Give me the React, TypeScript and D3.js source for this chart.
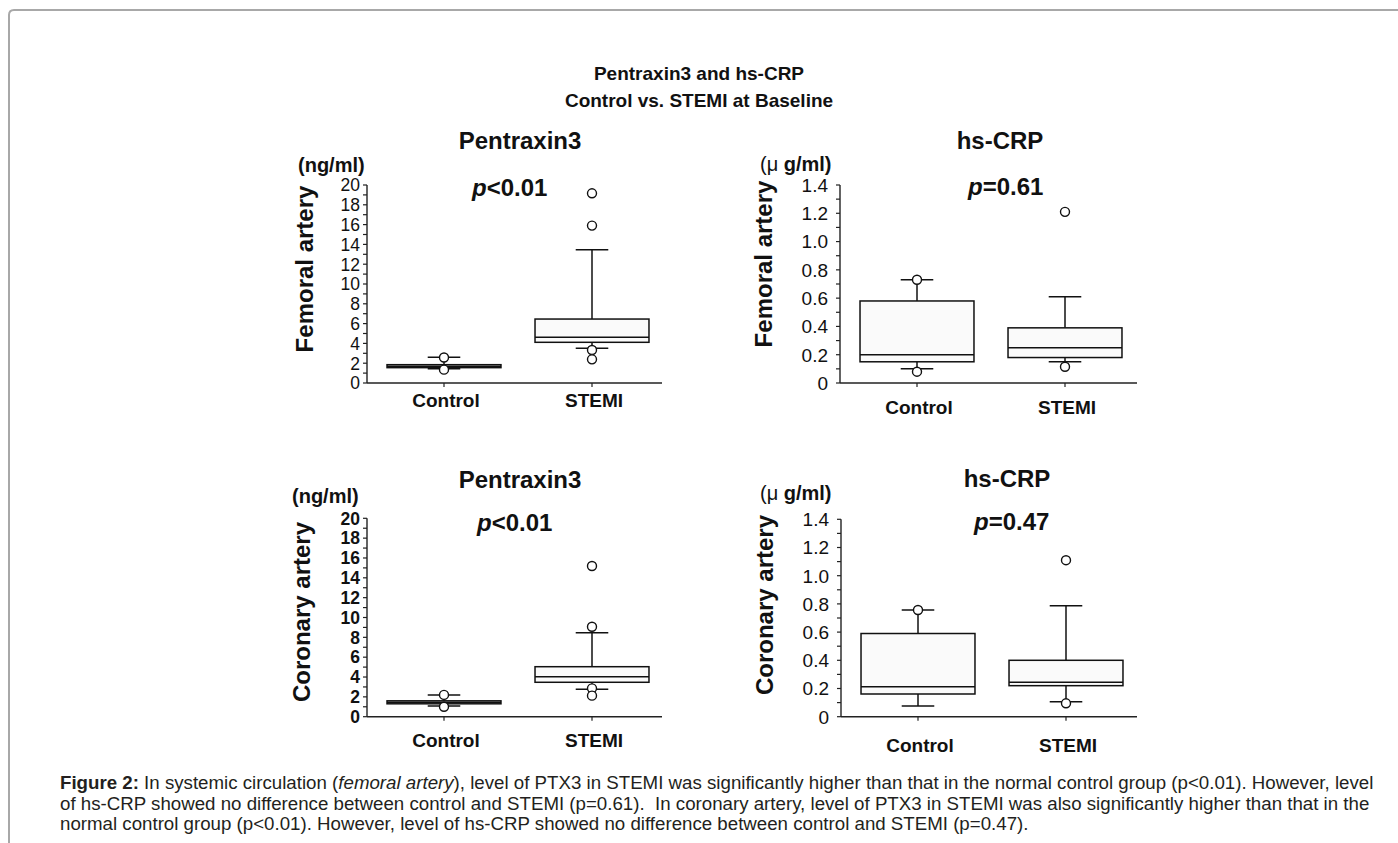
import React from "react";
import * as d3 from "d3";

const FONT = "'Liberation Sans', Arial, Helvetica, sans-serif";

const categories = ["Control", "STEMI"];
const ptxTickLabels = [0, 2, 4, 6, 8, 10, 12, 14, 16, 18, 20];
const crpTickLabels = [0, 0.2, 0.4, 0.6, 0.8, 1.0, 1.2, 1.4];

type Stat = { q1: number; median: number; q3: number; lo: number; hi: number; outliers: number[] };

// Femoral artery, Pentraxin3 (ng/ml)
const femoralPtx3: Stat[] = [
  { q1: 1.55, median: 1.7, q3: 1.85, lo: 1.44, hi: 2.6, outliers: [2.58, 1.35] },
  { q1: 4.11, median: 4.62, q3: 6.46, lo: 3.5, hi: 13.46, outliers: [19.16, 15.9, 3.33, 2.39] },
];
// Femoral artery, hs-CRP (µg/ml)
const femoralCrp: Stat[] = [
  { q1: 0.15, median: 0.2, q3: 0.58, lo: 0.1, hi: 0.73, outliers: [0.73, 0.08] },
  { q1: 0.18, median: 0.25, q3: 0.39, lo: 0.15, hi: 0.61, outliers: [1.21, 0.115] },
];
// Coronary artery, Pentraxin3 (ng/ml)
const coronaryPtx3: Stat[] = [
  { q1: 1.3, median: 1.45, q3: 1.6, lo: 1.08, hi: 2.19, outliers: [2.2, 1.0] },
  { q1: 3.47, median: 4.03, q3: 5.04, lo: 2.76, hi: 8.47, outliers: [15.19, 9.07, 2.86, 2.12] },
];
// Coronary artery, hs-CRP (µg/ml)
const coronaryCrp: Stat[] = [
  { q1: 0.161, median: 0.213, q3: 0.59, lo: 0.076, hi: 0.757, outliers: [0.757] },
  { q1: 0.22, median: 0.244, q3: 0.4, lo: 0.106, hi: 0.787, outliers: [1.11, 0.095] },
];

const captionLines = [
  [
    { t: "Figure 2:", w: "bold" },
    { t: " In systemic circulation (" },
    { t: "femoral artery", s: "italic" },
    { t: "), level of PTX3 in STEMI was significantly higher than that in the normal control group (p<0.01). However, level" },
  ],
  [{ t: "of hs-CRP showed no difference between control and STEMI (p=0.61).\u00a0 In coronary artery, level of PTX3 in STEMI was also significantly higher than that in the" }],
  [{ t: "normal control group (p<0.01). However, level of hs-CRP showed no difference between control and STEMI (p=0.47)." }],
];

type PanelCfg = {
  stats: Stat[];
  axisX: number;
  xEnd: number;
  yBase: number;
  yTop: number;
  max: number;
  minorStep: number;
  labels: number[];
  fmt: (d: number) => string;
  labelSize: number;
  labelWeight: string;
  labelGap: number;
  catDy: number;
  title: string;
  titleX: number;
  titleY: number;
  unit: React.ReactNode;
  unitX: number;
  unitY: number;
  pItalic: string;
  pRest: string;
  pX: number;
  pY: number;
  yTitle: string;
  yTitleX: number;
  yTitleY: number;
};

function Panel({ c }: { c: PanelCfg }) {
  const y = d3.scaleLinear().domain([0, c.max]).range([c.yBase, c.yTop]);
  const x = d3.scaleBand<string>().domain(categories).range([c.axisX + 3, c.axisX + 3 + 296]).padding(0);
  const bw = x.bandwidth() * 0.77;
  const capW = x.bandwidth() * 0.22;
  const minor = d3.range(0, c.max + c.minorStep / 2, c.minorStep);
  const stroke = "#111";
  return (
    <g>
      <line x1={c.axisX} x2={c.axisX} y1={y(0)} y2={y(c.max)} stroke="#222" strokeWidth={1.4} />
      {minor.map((v, i) => (
        <line key={"m" + i} x1={c.axisX - 4} x2={c.axisX} y1={y(v)} y2={y(v)} stroke="#222" strokeWidth={1.2} />
      ))}
      {c.labels.map((v, i) => (
        <text
          key={"l" + i}
          x={c.axisX - c.labelGap}
          y={y(v)}
          dy="0.36em"
          textAnchor="end"
          fontSize={c.labelSize}
          fontWeight={c.labelWeight}
          fontFamily={FONT}
          fill="#111"
        >
          {c.fmt(v)}
        </text>
      ))}
      <line x1={c.axisX} x2={c.xEnd} y1={y(0)} y2={y(0)} stroke="#222" strokeWidth={1.4} />
      {categories.map((cat) => (
        <g key={cat}>
          <line
            x1={x(cat)! + x.bandwidth() / 2}
            x2={x(cat)! + x.bandwidth() / 2}
            y1={y(0)}
            y2={y(0) + 4}
            stroke="#222"
            strokeWidth={1.2}
          />
          <text
            x={x(cat)! + x.bandwidth() / 2 + 2}
            y={y(0) + c.catDy}
            textAnchor="middle"
            fontSize={19}
            fontWeight="bold"
            fontFamily={FONT}
            fill="#111"
          >
            {cat}
          </text>
        </g>
      ))}
      {c.stats.map((s, i) => {
        const cx = x(categories[i])! + x.bandwidth() / 2;
        return (
          <g key={"b" + i}>
            <line x1={cx} x2={cx} y1={y(s.q3)} y2={y(s.hi)} stroke={stroke} strokeWidth={1.5} />
            <line x1={cx} x2={cx} y1={y(s.q1)} y2={y(s.lo)} stroke={stroke} strokeWidth={1.5} />
            <line x1={cx - capW / 2} x2={cx + capW / 2} y1={y(s.hi)} y2={y(s.hi)} stroke={stroke} strokeWidth={1.5} />
            <line x1={cx - capW / 2} x2={cx + capW / 2} y1={y(s.lo)} y2={y(s.lo)} stroke={stroke} strokeWidth={1.5} />
            <rect
              x={cx - bw / 2}
              y={y(s.q3)}
              width={bw}
              height={y(s.q1) - y(s.q3)}
              fill="#fafafa"
              stroke={stroke}
              strokeWidth={1.5}
            />
            <line x1={cx - bw / 2} x2={cx + bw / 2} y1={y(s.median)} y2={y(s.median)} stroke={stroke} strokeWidth={1.5} />
            {s.outliers.map((o, j) => (
              <circle key={j} cx={cx} cy={y(o)} r={4.5} fill="white" stroke={stroke} strokeWidth={1.4} />
            ))}
          </g>
        );
      })}
      <text x={c.titleX} y={c.titleY} textAnchor="middle" fontSize={24} fontWeight="bold" fontFamily={FONT} fill="#111">
        {c.title}
      </text>
      <text x={c.unitX} y={c.unitY} fontSize={20} fontWeight="bold" fontFamily={FONT} fill="#111">
        {c.unit}
      </text>
      <text x={c.pX} y={c.pY} fontSize={24} fontWeight="bold" fontFamily={FONT} fill="#111">
        <tspan fontStyle="italic">{c.pItalic}</tspan>
        <tspan>{c.pRest}</tspan>
      </text>
      <text
        transform={`translate(${c.yTitleX},${c.yTitleY}) rotate(-90)`}
        textAnchor="middle"
        fontSize={24}
        fontWeight="bold"
        fontFamily={FONT}
        fill="#111"
      >
        {c.yTitle}
      </text>
    </g>
  );
}

const fmtPtx = (d: number) => String(d);
const fmtCrp = (d: number) => (d === 0 ? "0" : d.toFixed(1));
const ngUnit = "(ng/ml)";
const ugUnit = (
  <>
    <tspan fontWeight="normal">(μ</tspan>
    <tspan> g/ml)</tspan>
  </>
);

const panels: PanelCfg[] = [
  {
    stats: femoralPtx3, axisX: 367, xEnd: 662, yBase: 383, yTop: 185, max: 20, minorStep: 1,
    labels: ptxTickLabels, fmt: fmtPtx, labelSize: 17.5, labelWeight: "normal", labelGap: 7, catDy: 24,
    title: "Pentraxin3", titleX: 520, titleY: 149, unit: ngUnit, unitX: 298, unitY: 172,
    pItalic: "p", pRest: "<0.01", pX: 472, pY: 196, yTitle: "Femoral artery", yTitleX: 313, yTitleY: 269,
  },
  {
    stats: femoralCrp, axisX: 840, xEnd: 1137, yBase: 383, yTop: 185, max: 1.4, minorStep: 0.1,
    labels: crpTickLabels, fmt: fmtCrp, labelSize: 19, labelWeight: "normal", labelGap: 12, catDy: 31,
    title: "hs-CRP", titleX: 1000, titleY: 149, unit: ugUnit, unitX: 760, unitY: 171,
    pItalic: "p", pRest: "=0.61", pX: 968, pY: 195, yTitle: "Femoral artery", yTitleX: 772, yTitleY: 264,
  },
  {
    stats: coronaryPtx3, axisX: 367, xEnd: 662, yBase: 716.7, yTop: 518.3, max: 20, minorStep: 1,
    labels: ptxTickLabels, fmt: fmtPtx, labelSize: 17.5, labelWeight: "bold", labelGap: 7, catDy: 30,
    title: "Pentraxin3", titleX: 520, titleY: 488, unit: ngUnit, unitX: 292, unitY: 503,
    pItalic: "p", pRest: "<0.01", pX: 477, pY: 531, yTitle: "Coronary artery", yTitleX: 310, yTitleY: 612,
  },
  {
    stats: coronaryCrp, axisX: 841, xEnd: 1137, yBase: 716.7, yTop: 519.3, max: 1.4, minorStep: 0.1,
    labels: crpTickLabels, fmt: fmtCrp, labelSize: 19, labelWeight: "normal", labelGap: 12, catDy: 35,
    title: "hs-CRP", titleX: 1007, titleY: 487, unit: ugUnit, unitX: 760, unitY: 500,
    pItalic: "p", pRest: "=0.47", pX: 974, pY: 530, yTitle: "Coronary artery", yTitleX: 773, yTitleY: 605,
  },
];

export default function App() {
  return (
    <svg
      width={1398}
      height={843}
      style={{ position: "absolute", left: 0, top: 0, background: "white" }}
    >
      <rect x={0} y={0} width={1398} height={843} fill="white" />
      <path d="M 9 843 V 15 Q 9 10 14 10 H 1398" fill="none" stroke="#a8a8a8" strokeWidth={2} />
      <text x={699} y={80} textAnchor="middle" fontSize={19} fontWeight="bold" fontFamily={FONT} fill="#111">
        Pentraxin3 and hs-CRP
      </text>
      <text x={699} y={107} textAnchor="middle" fontSize={19} fontWeight="bold" fontFamily={FONT} fill="#111">
        Control vs. STEMI at Baseline
      </text>
      {panels.map((p, i) => (
        <Panel key={i} c={p} />
      ))}
      {captionLines.map((line, i) => (
        <text key={i} x={60} y={789 + i * 20.5} fontSize={18.7} fontFamily={FONT} fill="#231f20">
          {line.map((seg: any, j) => (
            <tspan key={j} fontWeight={seg.w || "normal"} fontStyle={seg.s || "normal"}>
              {seg.t}
            </tspan>
          ))}
        </text>
      ))}
    </svg>
  );
}
